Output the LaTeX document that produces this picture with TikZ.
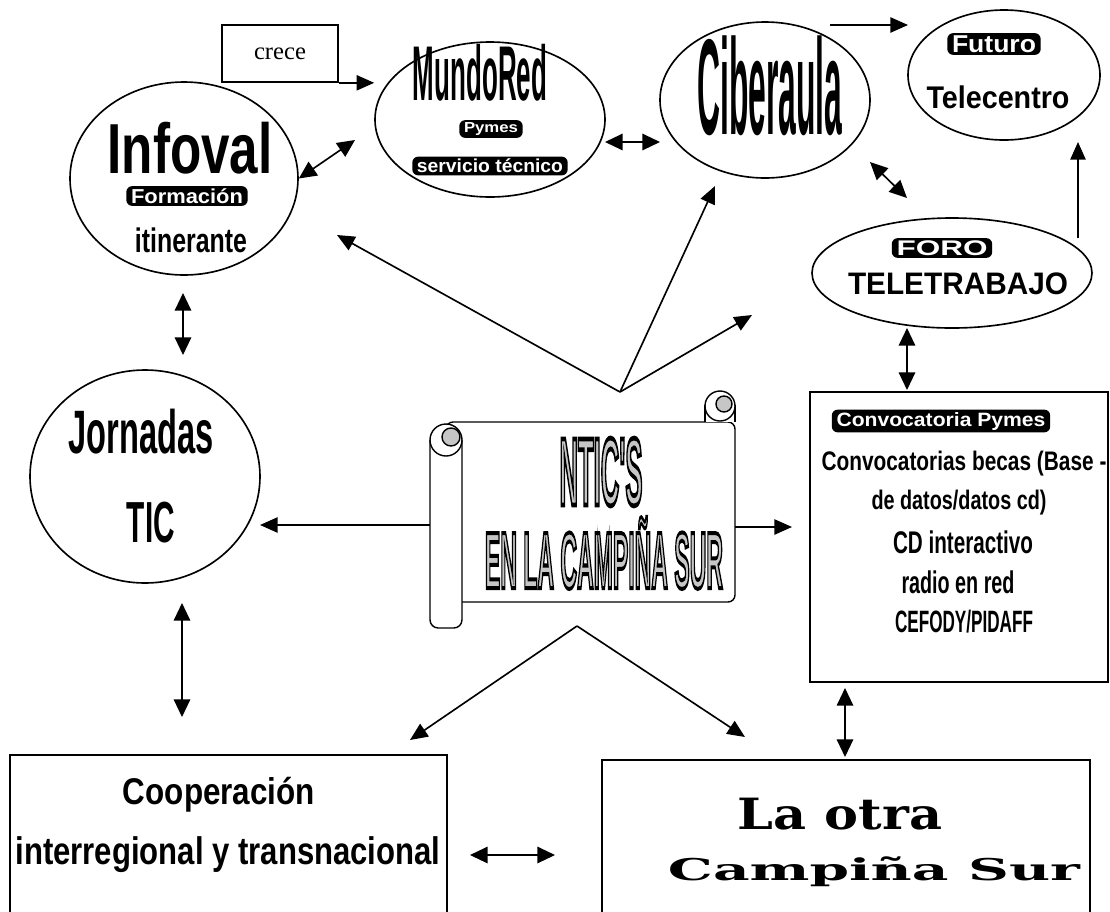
\documentclass[tikz,border=0pt]{standalone}
\usepackage{graphicx}
\usepackage{fontspec}
\setmainfont{Liberation Serif}
\newfontfamily\wafont{Liberation Sans}
\newfontfamily\wbfont{DejaVu Serif}
\usetikzlibrary{shapes.geometric,arrows.meta,calc}
\newlength\wpx \setlength\wpx{0.03cm}
\newcommand\wtxt[3]{\resizebox*{#1\wpx}{#2\wpx}{\wafont\bfseries #3}}
\newcommand\wser[3]{\resizebox*{#1\wpx}{#2\wpx}{\wbfont\bfseries #3}}
\newcommand\outl[3]{\resizebox*{#1\wpx}{#2\wpx}{\special{pdf:literal direct 2 Tr 0.5 w 0 G}\wafont\bfseries #3\special{pdf:literal direct 0 Tr}}}
\tikzset{
  bub/.style={ellipse, draw, line width=1.4pt, inner sep=0pt},
  boxx/.style={rectangle, draw, line width=1.4pt, inner sep=0pt},
  wa/.style={inner sep=0pt, text=black},
  wabar/.style={fill=black, text=white, rounded corners=5pt, inner xsep=4pt, inner ysep=2pt},
  con/.style={line width=1.4pt, -{Triangle[length=15pt,width=13pt]}},
  dcon/.style={line width=1.4pt, {Triangle[length=15pt,width=14pt]}-{Triangle[length=15pt,width=14pt]}},
  sc/.style={line width=1.2pt},
}
\begin{document}
\begin{tikzpicture}[x=0.03cm,y=-0.03cm]
\useasboundingbox (0,0) rectangle (1110,911);

% ---- boxes and bubbles
\node[boxx, minimum width=116\wpx, minimum height=57\wpx] (crece) at (280,53.5) {\fontsize{21}{24}\selectfont crece};

\node[bub, minimum width=228\wpx, minimum height=193\wpx] (infoval) at (184,178.5) {};
\node[wa] (infovalt) at (190,148) {\wtxt{165}{52}{Infoval}};
\node[wabar] (formacion) at (187,196) {\wtxt{112}{15}{Formación}};
\node[wa] (itin) at (191,240) {\wtxt{112}{25}{itinerante}};

\node[bub, minimum width=230\wpx, minimum height=155\wpx] (mundo) at (490,119.5) {};
\node[wa] (mundot) at (480,73) {\wtxt{134}{57}{MundoRed}};
\node[wabar] (pymes) at (491,129) {\wtxt{54}{13}{Pymes}};
\node[wabar] (servicio) at (490,166) {\wtxt{146}{14}{servicio técnico}};

\node[bub, minimum width=210\wpx, minimum height=156\wpx] (ciber) at (765,100) {};
\node[wa] (cibert) at (770,86) {\wtxt{145}{100}{Ciberaula}};

\node[bub, minimum width=192\wpx, minimum height=130\wpx] (futuro) at (1004,75) {};
\node[wabar] (futurot) at (994,44) {\wtxt{84}{17}{Futuro}};
\node[wa] (telecentro) at (998,97) {\wtxt{143}{23}{Telecentro}};

\node[bub, minimum width=280\wpx, minimum height=110\wpx] (foro) at (952,273) {};
\node[wabar] (forot) at (942,248) {\wtxt{91}{15}{FORO}};
\node[wa] (teletrabajo) at (958,284) {\wtxt{220}{22}{TELETRABAJO}};

\node[bub, minimum width=230\wpx, minimum height=213\wpx] (jorn) at (145,476.5) {};
\node[wa] (jornt) at (141,432) {\wtxt{145}{45}{Jornadas}};
\node[wa] (tic) at (151,523) {\wtxt{48}{41}{TIC}};

\node[boxx, minimum width=298\wpx, minimum height=290\wpx] (conv) at (959,537) {};
\node[wabar] (conv1) at (941,421) {\wtxt{209}{18}{Convocatoria Pymes}};
\node[wa] (conv2) at (964,464) {\wtxt{285}{25}{Convocatorias becas (Base -}};
\node[wa] (conv3) at (959,503) {\wtxt{175}{25}{de datos/datos cd)}};
\node[wa] (conv4) at (963,542) {\wtxt{140}{23}{CD interactivo}};
\node[wa] (conv5) at (958,582) {\wtxt{113}{23}{radio en red}};
\node[wa] (conv6) at (964,622) {\wtxt{138}{23}{CEFODY/PIDAFF}};

\node[boxx, minimum width=437\wpx, minimum height=175\wpx] (coop) at (228.5,842.5) {};
\node[wa] (coop1) at (219,795) {\wtxt{192}{35}{Cooperación}};
\node[wa] (coop2) at (228,855) {\wtxt{425}{36}{interregional y transnacional}};

\node[boxx, minimum width=488\wpx, minimum height=170\wpx] (camp) at (846,845) {};
\node[wa] (camp1) at (840,814) {\wser{204}{32}{La otra}};
\node[wa] (camp2) at (874,872) {\wser{412}{30}{Campiña Sur}};

% ---- scroll
\draw[sc, fill=white, rounded corners=6pt] (446,422) -- (735,422) -- (735,602) -- (446,602) -- cycle;
\draw[sc, fill=white] (705,422) -- (705,406) -- (735,406) -- (735,422);
\draw[sc, fill=white] (720,406) circle[radius=15];
\draw[sc, fill=gray!45] (724,404) circle[radius=8];
\draw[sc, fill=white, rounded corners=7pt] (430,440) -- (430,628) -- (462,628) -- (462,440);
\draw[sc, fill=white] (446,440) circle[radius=16];
\draw[sc, fill=gray!45] (451,437) circle[radius=9];
\node[inner sep=0pt, minimum width=305\wpx, minimum height=236\wpx] (scroll) at (583,510) {};

\node[wa, text=gray!45] (ntic) at (601,472) {\outl{83}{68}{NTIC'S}};
\node[wa, text=gray!45] (enla) at (604,553) {\outl{238}{72}{EN LA CAMPIÑA SUR}};

% ---- coordinates
\coordinate (stop) at (620,392);
\coordinate (sbot) at (577,626);
\coordinate (sleft) at (430,525);
\coordinate (sright) at (735,527);
\coordinate (tinf) at (337,235);
\coordinate (tcib) at (715,186);
\coordinate (tfor) at (752,315);
\coordinate (tjor) at (260,525);
\coordinate (tconv) at (792,527);
\coordinate (tcoop) at (410,740);
\coordinate (tcamp) at (745,737);
\coordinate (mleft) at (355,140);
\coordinate (mr1) at (605,142);
\coordinate (cl1) at (660,142);
\coordinate (cb1) at (870,162);
\coordinate (fo1) at (907,198);
\coordinate (ci1) at (830,25);
\coordinate (fu1) at (908,25);
\coordinate (te1) at (1078,238);
\coordinate (fu2) at (1078,142);
\coordinate (ib1) at (183,293);
\coordinate (jt1) at (183,355);
\coordinate (fb1) at (907,328);
\coordinate (ct1) at (907,390);
\coordinate (jb1) at (182,603);
\coordinate (ct2) at (182,717);
\coordinate (cvb) at (845,688);
\coordinate (cpt) at (845,757);
\coordinate (cor) at (470,855);
\coordinate (cal) at (555,855);

% ---- connectors
\draw[con] (crece.south east) -- (crece.south east -| mundo.west);
\draw[dcon] (infoval.east) -- (mleft);
\draw[dcon] (mr1) -- (cl1);
\draw[con] (ci1) -- (fu1);
\draw[dcon] (cb1) -- (fo1);
\draw[con] (te1) -- (fu2);
\draw[dcon] (ib1) -- (jt1);
\draw[dcon] (fb1) -- (ct1);
\draw[dcon] (jb1) -- (ct2);
\draw[dcon] (cvb) -- (cpt);
\draw[dcon] (cor) -- (cal);
\draw[con] (stop) -- (tinf);
\draw[con] (stop) -- (tcib);
\draw[con] (stop) -- (tfor);
\draw[con] (sleft) -- (tjor);
\draw[con] (sright) -- (tconv);
\draw[con] (sbot) -- (tcoop);
\draw[con] (sbot) -- (tcamp);
\end{tikzpicture}
\end{document}
